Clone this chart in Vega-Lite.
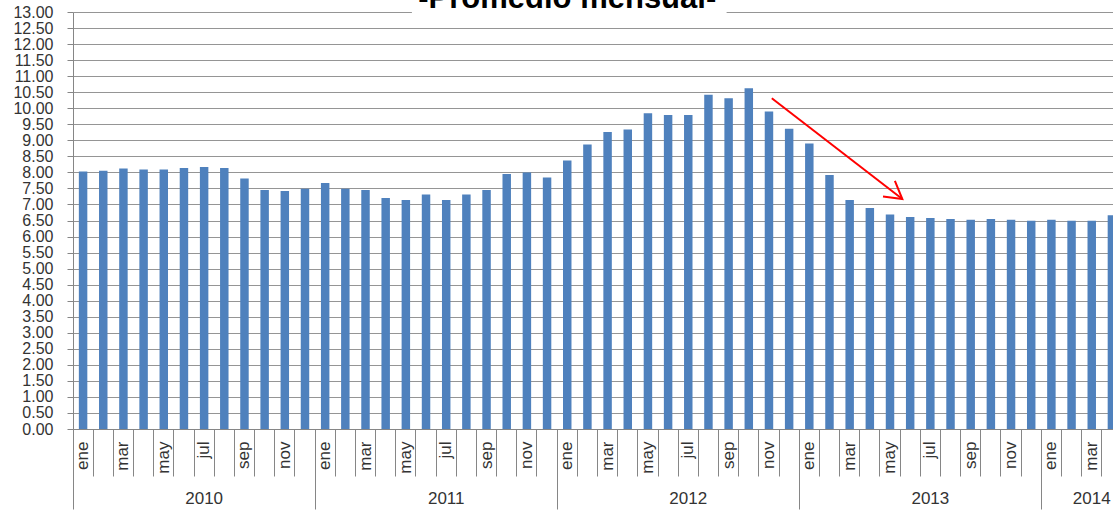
{
  "$schema": "https://vega.github.io/schema/vega-lite/v6.json",
  "width": 1040,
  "height": 417,
  "autosize": "none",
  "padding": {"left": 73, "top": 12, "right": 0, "bottom": 81},
  "background": "white",
  "config": {"view": {"stroke": null}, "font": "Liberation Sans"},
  "datasets": {
    "d": [
      {"mes": "2010-01", "valor": 8.03}, {"mes": "2010-02", "valor": 8.05}, {"mes": "2010-03", "valor": 8.12},
      {"mes": "2010-04", "valor": 8.09}, {"mes": "2010-05", "valor": 8.09}, {"mes": "2010-06", "valor": 8.14},
      {"mes": "2010-07", "valor": 8.17}, {"mes": "2010-08", "valor": 8.14}, {"mes": "2010-09", "valor": 7.81},
      {"mes": "2010-10", "valor": 7.45}, {"mes": "2010-11", "valor": 7.42}, {"mes": "2010-12", "valor": 7.49},
      {"mes": "2011-01", "valor": 7.67}, {"mes": "2011-02", "valor": 7.49}, {"mes": "2011-03", "valor": 7.45},
      {"mes": "2011-04", "valor": 7.20}, {"mes": "2011-05", "valor": 7.14}, {"mes": "2011-06", "valor": 7.31},
      {"mes": "2011-07", "valor": 7.14}, {"mes": "2011-08", "valor": 7.31}, {"mes": "2011-09", "valor": 7.45},
      {"mes": "2011-10", "valor": 7.95}, {"mes": "2011-11", "valor": 8.00}, {"mes": "2011-12", "valor": 7.84},
      {"mes": "2012-01", "valor": 8.37}, {"mes": "2012-02", "valor": 8.87}, {"mes": "2012-03", "valor": 9.26},
      {"mes": "2012-04", "valor": 9.34}, {"mes": "2012-05", "valor": 9.84}, {"mes": "2012-06", "valor": 9.79},
      {"mes": "2012-07", "valor": 9.79}, {"mes": "2012-08", "valor": 10.42}, {"mes": "2012-09", "valor": 10.31},
      {"mes": "2012-10", "valor": 10.62}, {"mes": "2012-11", "valor": 9.90}, {"mes": "2012-12", "valor": 9.36},
      {"mes": "2013-01", "valor": 8.90}, {"mes": "2013-02", "valor": 7.92}, {"mes": "2013-03", "valor": 7.14},
      {"mes": "2013-04", "valor": 6.89}, {"mes": "2013-05", "valor": 6.69}, {"mes": "2013-06", "valor": 6.61},
      {"mes": "2013-07", "valor": 6.58}, {"mes": "2013-08", "valor": 6.55}, {"mes": "2013-09", "valor": 6.52},
      {"mes": "2013-10", "valor": 6.55}, {"mes": "2013-11", "valor": 6.52}, {"mes": "2013-12", "valor": 6.49},
      {"mes": "2014-01", "valor": 6.52}, {"mes": "2014-02", "valor": 6.49}, {"mes": "2014-03", "valor": 6.49},
      {"mes": "2014-04", "valor": 6.66}
    ]
  },
  "data": {"name": "d"},
  "resolve": {"axis": {"x": "independent", "y": "independent"}},
  "layer": [
    {
      "mark": {"type": "bar", "color": "#4f81bd", "width": {"band": 0.42}},
      "encoding": {
        "x": {
          "field": "mes", "type": "ordinal",
          "scale": {"range": [0, 1049], "paddingInner": 0, "paddingOuter": 0},
          "axis": {
            "orient": "bottom",
            "title": null,
            "labelExpr": "indexof(['01','03','05','07','09','11'], substring(datum.value,5,7)) >= 0 ? ['ene','feb','mar','abr','may','jun','jul','ago','sep','oct','nov','dic'][toNumber(substring(datum.value,5,7))-1] : ''",
            "labelAngle": -90, "labelAlign": "right", "labelBaseline": "middle",
            "labelFontSize": 17, "labelFont": "Liberation Sans", "labelColor": "#333333",
            "labelPadding": 12, "labelOverlap": false, "labelBound": false, "labelFlush": false,
            "ticks": false, "tickSize": 0,
            "domain": true, "domainColor": "#868686", "domainWidth": 1,
            "grid": false
          }
        },
        "y": {
          "field": "valor", "type": "quantitative",
          "scale": {"domain": [0, 13], "nice": false, "zero": true},
          "axis": {
            "orient": "left",
            "title": null,
            "values": [0, 0.5, 1, 1.5, 2, 2.5, 3, 3.5, 4, 4.5, 5, 5.5, 6, 6.5, 7, 7.5, 8, 8.5, 9, 9.5, 10, 10.5, 11, 11.5, 12, 12.5, 13],
            "format": ".2f",
            "labelFontSize": 16, "labelFont": "Liberation Sans", "labelColor": "#333333",
            "labelPadding": 14, "labelOverlap": false, "labelBound": false, "labelFlush": false,
            "tickSize": 6, "tickColor": "#868686",
            "domainColor": "#868686",
            "grid": true, "gridColor": "#959595", "gridWidth": 1
          }
        }
      }
    },
    {
      "mark": {"type": "bar", "opacity": 0},
      "encoding": {
        "x": {
          "field": "mes", "type": "ordinal",
          "axis": {
            "orient": "bottom",
            "title": null, "labels": false, "domain": false, "grid": false,
            "ticks": true, "bandPosition": 0, "tickSize": 47, "tickColor": "#868686", "tickWidth": 1
          }
        }
      }
    },
    {
      "mark": {"type": "bar", "opacity": 0},
      "encoding": {
        "x": {
          "field": "mes", "type": "ordinal",
          "axis": {
            "orient": "bottom",
            "title": null, "domain": false, "grid": false,
            "ticks": true, "bandPosition": 0, "tickSize": 80, "tickColor": "#868686", "tickWidth": 1,
            "tickOpacity": {"condition": {"test": "substring(datum.value,5,7)=='01'", "value": 1}, "value": 0},
            "labelExpr": "substring(datum.value,5,7)=='07' || datum.value=='2014-03' ? substring(datum.value,0,4) : ''",
            "labelAngle": 0, "labelAlign": "center", "labelBaseline": "top",
            "labelFontSize": 17, "labelFont": "Liberation Sans", "labelColor": "#333333",
            "labelPadding": -19, "labelOverlap": false, "labelBound": false, "labelFlush": false
          }
        }
      }
    },
    {
      "data": {"values": [{}]},
      "mark": {"type": "rule", "color": "white", "strokeWidth": 5},
      "encoding": {
        "x": {"datum": "2011-05", "type": "ordinal", "bandPosition": 0.8, "axis": null},
        "x2": {"datum": "2012-09", "bandPosition": 0.4},
        "y": {"datum": 13, "type": "quantitative", "axis": null}
      }
    },
    {
      "data": {"values": [{}]},
      "mark": {"type": "text", "font": "Liberation Sans", "fontWeight": "bold", "fontSize": 31, "color": "#000000", "baseline": "alphabetic", "align": "center", "dy": -4.5},
      "encoding": {
        "x": {"datum": "2012-01", "type": "ordinal", "bandPosition": 0.5, "axis": null},
        "y": {"datum": 13, "type": "quantitative", "axis": null},
        "text": {"value": "-Promedio mensual-"}
      }
    },
    {
      "data": {"values": [{}]},
      "mark": {"type": "rule", "color": "#ff0000", "strokeWidth": 2},
      "encoding": {
        "x": {"datum": "2012-11", "type": "ordinal", "bandPosition": 0.64, "axis": null},
        "x2": {"datum": "2013-06", "bandPosition": 0.11},
        "y": {"datum": 10.31, "type": "quantitative", "axis": null},
        "y2": {"datum": 7.17}
      }
    },
    {
      "data": {"values": [{}]},
      "mark": {"type": "point", "shape": "M -1 -0.577 L 0 0 L -1 0.577", "angle": 37.6, "size": 1140, "filled": false, "stroke": "#ff0000", "strokeWidth": 2, "opacity": 1},
      "encoding": {
        "x": {"datum": "2013-06", "type": "ordinal", "bandPosition": 0.11, "axis": null},
        "y": {"datum": 7.17, "type": "quantitative", "axis": null}
      }
    }
  ]
}
